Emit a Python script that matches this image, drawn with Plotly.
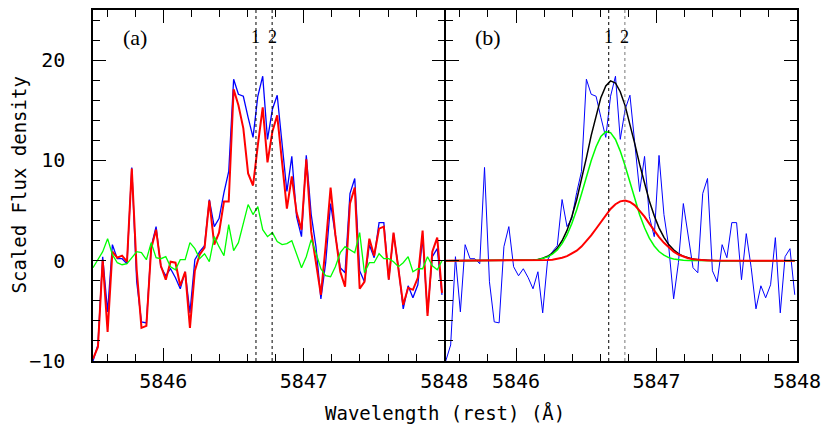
import plotly.graph_objects as go

# ---------------- data ----------------
wavelength = [5845.500, 5845.535, 5845.569, 5845.604, 5845.638, 5845.673, 5845.707, 5845.742,
              5845.776, 5845.811, 5845.845, 5845.880, 5845.914, 5845.949, 5845.983, 5846.018,
              5846.052, 5846.087, 5846.121, 5846.156, 5846.190, 5846.225, 5846.259, 5846.294,
              5846.328, 5846.363, 5846.397, 5846.432, 5846.466, 5846.501, 5846.535, 5846.570,
              5846.604, 5846.639, 5846.673, 5846.708, 5846.742, 5846.777, 5846.811, 5846.846,
              5846.880, 5846.915, 5846.949, 5846.984, 5847.018, 5847.053, 5847.087, 5847.122,
              5847.156, 5847.191, 5847.225, 5847.260, 5847.294, 5847.329, 5847.363, 5847.398,
              5847.432, 5847.467, 5847.501, 5847.536, 5847.570, 5847.605, 5847.639, 5847.674,
              5847.708, 5847.743, 5847.777, 5847.812, 5847.846, 5847.881, 5847.915, 5847.950,
              5847.984]

flux_blue = [-10, -8.4, 0.4, -5.1, 1.6, 0.2, 0.2, -0.3, 9.3, -2.1,
             -6.1, -6.2, 1.4, 3.4, -0.6, -1.5, -0.8, -1.7, -2.8, -1.1,
             -5.2, 0.1, 0.9, 1.5, 6.1, 3.4, 4.2, 6.8, 8.9, 18.1,
             16.6, 16.4, 14.3, 12.3, 16.4, 18.4, 12.1, 15.1, 16.5, 11.7,
             6.9, 10.4, 4.4, 2.4, 10.5, 4.6, 1.4, -3.8, -0.2, 5.7,
             2.6, -0.7, -1.2, 6.7, 8.2, -1.0, -2.1, 1.6, 0.3, 3.8,
             3.8, -1.9, 2.7, -0.7, -4.8, -2.5, -3.7, -2.4, 2.3, -5.2,
             0.4, 1.2, -3.4]

flux_red = [-9.8, -8.6, 0.1, -7.1, 0.9, 0.3, 0.5, -0.1, 9.2, -0.9,
            -6.7, -6.5, 1.2, 3.1, -0.5, -1.9, -0.1, -0.2, -2.5, -1.1,
            -6.7, -1.0, 0.6, 1.3, 6.0, 1.6, 2.8, 5.9, 5.9, 17.1,
            15.5, 13.2, 8.7, 7.5, 11.5, 15.3, 9.8, 12.9, 14.5, 9.9,
            5.2, 8.4, 4.8, 3.1, 10.1, 2.9, -0.2, -3.4, 1.5, 7.3,
            2.6, -1.1, -2.6, 5.7, 7.3, -2.8, -2.1, 2.2, 0.5, 3.2,
            3.4, -1.9, 2.8, -0.7, -4.4, -2.7, -2.9, -1.7, 3.0, -5.5,
            0.9, 2.3, -3.2]

flux_green = [-0.7, 0.1, 0.9, 2.2, 0.6, -0.2, -0.4, -0.3, 0.3, 0.9,
              0.8, 0.1, 1.8, 0.3, 0.2, 0.4, -0.6, -0.9, 0.1, 0.1,
              1.8, 1.2, 0.2, 0.7, -0.1, 2.4, 1.4, 0.5, 3.6, 1.0,
              1.8, 3.6, 5.6, 4.6, 5.4, 3.1, 2.4, 2.8, 1.9, 1.6,
              1.7, 2.0, 0.6, -0.7, 0.4, 2.1, 0.8, -0.8, -1.5, -1.6,
              -0.6, 0.8, 1.4, 1.1, 0.8, 2.8, -1.2, -0.2, -0.2, 0.7,
              0.2, 0.2, -0.1, -0.6, -0.2, 0.4, -1.1, -0.8, -0.8, 0.4,
              -0.5, -0.9, 0.0]

fit_comp1 = [0.0] * 18 + [0.05, 0.11, 0.21, 0.38, 0.65, 1.08, 1.70, 2.57, 3.70, 5.08,
                          6.66, 8.34, 9.96, 11.37, 12.38, 12.87, 12.77, 12.09, 10.93, 9.44,
                          7.78, 6.11, 4.59, 3.29, 2.25, 1.47, 0.92, 0.55, 0.31, 0.17,
                          0.09, 0.04, 0.02, 0.01] + [0.0] * 21

fit_comp2 = [0.0] * 18 + [0.01, 0.02, 0.03, 0.06, 0.10, 0.18, 0.29, 0.45, 0.69, 1.00,
                          1.41, 1.92, 2.52, 3.19, 3.88, 4.56, 5.16, 5.63, 5.92, 6.00,
                          5.86, 5.52, 5.01, 4.39, 3.70, 3.01, 2.36, 1.78, 1.30, 0.91,
                          0.62, 0.40, 0.25, 0.15, 0.09, 0.05, 0.03, 0.01] + [0.0] * 17

fit_total = [0.0] * 18 + [0.06, 0.13, 0.24, 0.44, 0.75, 1.26, 1.99, 3.02, 4.39, 6.08,
                          8.07, 10.26, 12.48, 14.56, 16.26, 17.43, 17.93, 17.72, 16.85, 15.44,
                          13.64, 11.63, 9.60, 7.68, 5.95, 4.48, 3.28, 2.33, 1.61, 1.08,
                          0.71, 0.44, 0.27, 0.16, 0.09, 0.05, 0.03, 0.01] + [0.0] * 17

line_positions = [5846.66, 5846.775]
line_labels = ["1", "2"]
panel_labels = ["(a)", "(b)"]
x_ticks = [5846, 5847, 5848]
y_ticks = [-10, 0, 10, 20]

# ---------------- figure ----------------
fig = go.Figure()

# panel (a)
fig.add_trace(go.Scatter(x=wavelength, y=flux_blue, mode="lines",
                         line=dict(color="#0000ff", width=1.3), xaxis="x", yaxis="y"))
fig.add_trace(go.Scatter(x=wavelength, y=flux_red, mode="lines",
                         line=dict(color="#ff0000", width=2), xaxis="x", yaxis="y"))
fig.add_trace(go.Scatter(x=wavelength, y=flux_green, mode="lines",
                         line=dict(color="#00ff00", width=1.3), xaxis="x", yaxis="y"))

# panel (b)
fig.add_trace(go.Scatter(x=wavelength, y=flux_blue, mode="lines",
                         line=dict(color="#0000ff", width=1), xaxis="x2", yaxis="y2"))
fig.add_trace(go.Scatter(x=wavelength, y=fit_total, mode="lines",
                         line=dict(color="#000000", width=1.5), xaxis="x2", yaxis="y2"))
fig.add_trace(go.Scatter(x=wavelength, y=fit_comp1, mode="lines",
                         line=dict(color="#00ff00", width=1.5), xaxis="x2", yaxis="y2"))
fig.add_trace(go.Scatter(x=wavelength, y=fit_comp2, mode="lines",
                         line=dict(color="#ff0000", width=2), xaxis="x2", yaxis="y2"))

W, H = 830, 433
LW = 1.5
left_a, mid, right_b = 93, 445, 797
top, bottom = 10, 361

tick_font = dict(family="DejaVu Sans Mono", size=20, color="black")

xcommon = dict(range=[5845.5, 5848], tickvals=x_ticks, ticks="inside", ticklen=13, tickwidth=1.3,
               minor=dict(dtick=0.2, tick0=5846, ticks="inside", ticklen=7, tickwidth=1.1,
                          tickcolor="black"),
               showline=True, linewidth=LW, linecolor="black", mirror="allticks",
               showgrid=False, zeroline=False, tickfont=tick_font, tickcolor="black",
               ticklabelstandoff=1)
ycommon = dict(range=[-10, 25], tickvals=y_ticks, ticks="inside", ticklen=13, tickwidth=1.3,
               minor=dict(dtick=2, tick0=0, ticks="inside", ticklen=7, tickwidth=1.1,
                          tickcolor="black"),
               showline=True, linewidth=LW, linecolor="black", mirror="allticks",
               showgrid=False, zeroline=False, tickfont=tick_font, tickcolor="black")

ydom = [(H - bottom) / H, (H - top) / H]
fig.update_layout(
    autosize=True, margin=dict(l=0, r=0, t=0, b=0, autoexpand=False),
    paper_bgcolor="white", plot_bgcolor="white", showlegend=False,
    xaxis=dict(domain=[left_a / W, (mid - LW / 2) / W], anchor="y", **xcommon),
    xaxis2=dict(domain=[(mid + LW / 2) / W, right_b / W], anchor="y2", **xcommon),
    yaxis=dict(domain=ydom, anchor="x", ticklabelstandoff=22, **ycommon),
    yaxis2=dict(domain=ydom, anchor="x2", showticklabels=False, **ycommon),
)

# vertical dotted lines and their labels
for xref, yref, colors in [("x", "y", ["black", "black"]), ("x2", "y2", ["black", "#777777"])]:
    for pos, lab, col in zip(line_positions, line_labels, colors):
        fig.add_shape(type="line", xref=xref, yref=yref, x0=pos, x1=pos, y0=-10, y1=25,
                      line=dict(color=col, width=1, dash="dot"))
        fig.add_annotation(x=pos, y=22.3, xref=xref, yref=yref, text=lab, showarrow=False,
                           font=dict(family="Liberation Serif", size=18, color="black"))

for xref, yref, lab in [("x", "y", panel_labels[0]), ("x2", "y2", panel_labels[1])]:
    fig.add_annotation(x=5845.798, y=22.3, xref=xref, yref=yref, text=lab, showarrow=False,
                       font=dict(family="Liberation Serif", size=22, color="black"))

# axis titles
fig.add_annotation(x=18 / W, y=(H - 185.5) / H, xref="paper", yref="paper",
                   xanchor="center", yanchor="middle",
                   text="Scaled Flux density", textangle=-90, showarrow=False,
                   font=dict(family="DejaVu Sans Mono", size=19, color="black"))
fig.add_annotation(x=445 / W, y=(H - 413) / H, xref="paper", yref="paper",
                   xanchor="center", yanchor="middle",
                   text="Wavelength (rest) (Å)", showarrow=False,
                   font=dict(family="DejaVu Sans Mono", size=19, color="black"))

fig.write_html("out.html",
               config={"displayModeBar": False, "responsive": True},
               default_width="100vw", default_height="100vh",
               post_script="document.body.style.margin='0px';document.body.style.overflow='hidden';")
